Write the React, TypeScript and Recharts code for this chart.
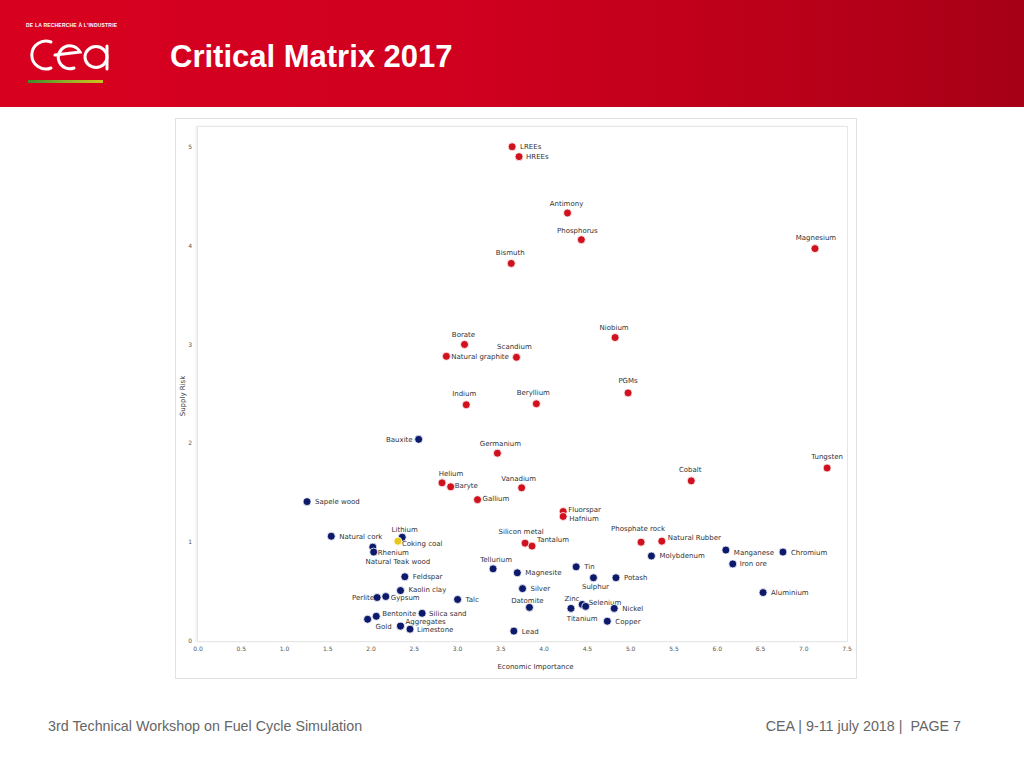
import React from 'react';
import { ScatterChart, Scatter, XAxis, YAxis } from 'recharts';

// Economic Importance (ei) / Supply Risk (sr)
const criticalMaterials = [
  { name: 'LREEs', ei: 3.63, sr: 5.0 },
  { name: 'HREEs', ei: 3.71, sr: 4.9 },
  { name: 'Antimony', ei: 4.27, sr: 4.33 },
  { name: 'Phosphorus', ei: 4.43, sr: 4.06 },
  { name: 'Bismuth', ei: 3.62, sr: 3.82 },
  { name: 'Magnesium', ei: 7.13, sr: 3.97 },
  { name: 'Niobium', ei: 4.82, sr: 3.07 },
  { name: 'Borate', ei: 3.08, sr: 3.0 },
  { name: 'Natural graphite', ei: 2.87, sr: 2.88 },
  { name: 'Scandium', ei: 3.68, sr: 2.87 },
  { name: 'PGMs', ei: 4.97, sr: 2.51 },
  { name: 'Indium', ei: 3.1, sr: 2.39 },
  { name: 'Beryllium', ei: 3.91, sr: 2.4 },
  { name: 'Germanium', ei: 3.46, sr: 1.9 },
  { name: 'Tungsten', ei: 7.27, sr: 1.75 },
  { name: 'Cobalt', ei: 5.7, sr: 1.62 },
  { name: 'Helium', ei: 2.82, sr: 1.6 },
  { name: 'Baryte', ei: 2.92, sr: 1.56 },
  { name: 'Vanadium', ei: 3.74, sr: 1.55 },
  { name: 'Gallium', ei: 3.23, sr: 1.43 },
  { name: 'Fluorspar', ei: 4.22, sr: 1.31 },
  { name: 'Hafnium', ei: 4.22, sr: 1.26 },
  { name: 'Phosphate rock', ei: 5.12, sr: 1.0 },
  { name: 'Natural Rubber', ei: 5.36, sr: 1.01 },
  { name: 'Silicon metal', ei: 3.78, sr: 0.99 },
  { name: 'Tantalum', ei: 3.86, sr: 0.96 },
];

const nonCriticalMaterials = [
  { name: 'Bauxite', ei: 2.55, sr: 2.04 },
  { name: 'Sapele wood', ei: 1.26, sr: 1.41 },
  { name: 'Natural cork', ei: 1.54, sr: 1.06 },
  { name: 'Lithium', ei: 2.36, sr: 1.05 },
  { name: 'Natural Teak wood', ei: 2.02, sr: 0.95 },
  { name: 'Rhenium', ei: 2.03, sr: 0.9 },
  { name: 'Tellurium', ei: 3.41, sr: 0.73 },
  { name: 'Magnesite', ei: 3.69, sr: 0.69 },
  { name: 'Tin', ei: 4.37, sr: 0.75 },
  { name: 'Sulphur', ei: 4.57, sr: 0.64 },
  { name: 'Potash', ei: 4.83, sr: 0.64 },
  { name: 'Molybdenum', ei: 5.24, sr: 0.86 },
  { name: 'Manganese', ei: 6.1, sr: 0.92 },
  { name: 'Chromium', ei: 6.76, sr: 0.9 },
  { name: 'Iron ore', ei: 6.18, sr: 0.78 },
  { name: 'Aluminium', ei: 6.53, sr: 0.49 },
  { name: 'Silver', ei: 3.75, sr: 0.53 },
  { name: 'Datomite', ei: 3.83, sr: 0.34 },
  { name: 'Zinc', ei: 4.31, sr: 0.33 },
  { name: 'Titanium', ei: 4.44, sr: 0.37 },
  { name: 'Selenium', ei: 4.48, sr: 0.35 },
  { name: 'Nickel', ei: 4.81, sr: 0.33 },
  { name: 'Copper', ei: 4.73, sr: 0.2 },
  { name: 'Lead', ei: 3.65, sr: 0.1 },
  { name: 'Feldspar', ei: 2.39, sr: 0.65 },
  { name: 'Kaolin clay', ei: 2.34, sr: 0.51 },
  { name: 'Perlite', ei: 2.07, sr: 0.44 },
  { name: 'Gypsum', ei: 2.17, sr: 0.45 },
  { name: 'Talc', ei: 3.0, sr: 0.42 },
  { name: 'Silica sand', ei: 2.59, sr: 0.28 },
  { name: 'Bentonite', ei: 2.06, sr: 0.25 },
  { name: 'Gold', ei: 1.96, sr: 0.22 },
  { name: 'Aggregates', ei: 2.34, sr: 0.15 },
  { name: 'Limestone', ei: 2.45, sr: 0.12 },
];

const otherMaterials = [{ name: 'Coking coal', ei: 2.31, sr: 1.01 }];

const xTicks = [0, 0.5, 1, 1.5, 2, 2.5, 3, 3.5, 4, 4.5, 5, 5.5, 6, 6.5, 7, 7.5];
const yTicks = [0, 1, 2, 3, 4, 5];

// label placement (style only): side, dx, dy
const labelPlacement: Record<string, [string, number, number]> = {
  LREEs: ['r', 1, 0], HREEs: ['r', 0, 0], Antimony: ['t', -1, 0], Phosphorus: ['t', -4, 0],
  Bismuth: ['t', -1, -1], Magnesium: ['t', 1, -2], Niobium: ['t', -1, -1], Borate: ['t', -1, 0],
  'Natural graphite': ['r', -2, 0], Scandium: ['t', -2, -1], PGMs: ['t', 0, -2.5], Indium: ['t', -2, -2],
  Beryllium: ['t', -3, -2], Germanium: ['t', 3, 0], Tungsten: ['t', 0, -2], Cobalt: ['t', -1, -2],
  Helium: ['t', 9, 0], Baryte: ['r', -3, -1], Vanadium: ['t', -3, 0], Gallium: ['r', -2, -1],
  Fluorspar: ['r', -2, -2.5], Hafnium: ['r', -1, 2], 'Phosphate rock': ['t', -3, -4.5],
  'Natural Rubber': ['r', -1, -4], 'Silicon metal': ['t', -4, -2], Tantalum: ['r', -2, -6.5],
  Bauxite: ['l', 1, 0], 'Sapele wood': ['r', 1, 0], 'Natural cork': ['r', 1, 0], Lithium: ['t', 2.5, 2],
  'Natural Teak wood': ['b', 25, 6], Rhenium: ['r', -3, 0], Tellurium: ['t', 3, 0], Magnesite: ['r', 1, 0],
  Tin: ['r', 1, 0], Sulphur: ['b', 2, 0], Potash: ['r', 1, 0], Molybdenum: ['r', 1, 0],
  Manganese: ['r', 1, 2], Chromium: ['r', 1, 0], 'Iron ore': ['r', 0, 0], Aluminium: ['r', 1, 0],
  Silver: ['r', 1, 0], Datomite: ['t', -2, 2.5], Zinc: ['t', 1, 0], Titanium: ['b', 0, 6],
  Selenium: ['r', -4, -4], Nickel: ['r', 1, 0], Copper: ['r', 1, 0], Lead: ['r', 1, 0],
  Feldspar: ['r', 1, 0], 'Kaolin clay': ['r', 1, -1.5], Perlite: ['l', 4, 0], Gypsum: ['r', -2, 1],
  Talc: ['r', 1, 0], 'Silica sand': ['r', 0, 0], Bentonite: ['r', -1, -3], Gold: ['r', 1, 7],
  Aggregates: ['r', -2, -5], Limestone: ['r', 0, 0], 'Coking coal': ['r', -3, 2],
};

const FONT = '"DejaVu Sans", Verdana, sans-serif';

const makeDot = (color: string) => (props: any) => {
  const { cx, cy, payload } = props;
  if (cx == null || cy == null) return null;
  const [side, dx, dy] = labelPlacement[payload.name] ?? ['r', 0, 0];
  let tx = cx + 7 + dx;
  let ty = cy + 2.5 + dy;
  let anchor: 'start' | 'middle' | 'end' = 'start';
  if (side === 'l') { tx = cx - 7 + dx; anchor = 'end'; }
  if (side === 't') { tx = cx + dx; ty = cy - 7 + dy; anchor = 'middle'; }
  if (side === 'b') { tx = cx + dx; ty = cy + 11 + dy; anchor = 'middle'; }
  return (
    <g>
      <circle cx={cx} cy={cy} r={4} fill={color} stroke="#ffffff" strokeWidth={0.8} />
      <text x={tx} y={ty} textAnchor={anchor} fontSize={7} fill="#333" fontFamily={FONT}>
        {payload.name}
      </text>
    </g>
  );
};

const CeaLogo = () => (
  <svg width={110} height={60} style={{ position: 'absolute', left: 10, top: 30 }}>
    <g fill="none" stroke="#ffffff" strokeWidth={3} strokeLinecap="round">
      <path d="M 41 12 A 14 14 0 1 0 41 38" />
      <path d="M 45 25 L 70 22 A 11.5 11.5 0 1 0 64 38" />
      <ellipse cx={86} cy={27} rx={11} ry={10.5} />
      <path d="M 97 16 L 97 39" />
    </g>
  </svg>
);

export default function App() {
  return (
    <div style={{ position: 'absolute', left: 0, top: 0, width: 1024, height: 768, background: '#ffffff', overflow: 'hidden', fontFamily: '"Liberation Sans", Arial, sans-serif' }}>
      {/* header band */}
      <div style={{ position: 'absolute', left: 0, top: 0, width: 1024, height: 107, background: 'linear-gradient(90deg, #d8001f 0%, #d0001f 45%, #b80019 80%, #a60016 100%)' }} />
      <div style={{ position: 'absolute', left: 26, top: 22, fontSize: 5, fontWeight: 700, color: '#fff', letterSpacing: 0.2, fontFamily: '"Liberation Sans", Arial, sans-serif' }}>
        DE LA RECHERCHE À L'INDUSTRIE
      </div>
      <CeaLogo />
      <div style={{ position: 'absolute', left: 28, top: 80, width: 75, height: 3, background: 'linear-gradient(90deg, #3d8a2c 0%, #8fae2a 50%, #cfc21c 100%)' }} />
      <div style={{ position: 'absolute', left: 170, top: 40, fontSize: 31, fontWeight: 700, color: '#ffffff', lineHeight: '34px', whiteSpace: 'nowrap' }}>
        Critical Matrix 2017
      </div>

      {/* chart frame */}
      <div style={{ position: 'absolute', left: 175, top: 118, width: 680, height: 559, border: '1px solid #e2e2e2' }} />
      <div style={{ position: 'absolute', left: 197, top: 126, width: 649, height: 514, border: '1px solid #e6e6e6', boxShadow: '-2px 0 2px rgba(0,0,0,0.05)' }} />

      <div style={{ position: 'absolute', left: 175, top: 118 }}>
        <ScatterChart width={682} height={561} margin={{ top: 9, right: 10, bottom: 8, left: 7 }}>
          <XAxis
            type="number"
            dataKey="ei"
            domain={[0, 7.5]}
            ticks={xTicks}
            tickFormatter={(v: number) => v.toFixed(1)}
            tickLine={false}
            axisLine={false}
            tickSize={4}
            tickMargin={2}
            height={30}
            interval={0}
            tick={{ fontSize: 6, fill: '#555', fontFamily: FONT }}
            label={{
              content: (p: any) => {
                const vb = p.viewBox || { x: 23, y: 523, width: 649, height: 30 };
                return (
                  <text x={vb.x + vb.width / 2 + 13} y={vb.y + 28} textAnchor="middle" fontSize={7} fill="#333" fontFamily={FONT}>
                    Economic Importance
                  </text>
                );
              },
            }}
          />
          <YAxis
            type="number"
            dataKey="sr"
            domain={[0, 5.2]}
            ticks={yTicks}
            tickLine={false}
            axisLine={false}
            tickSize={4}
            tickMargin={2}
            width={16}
            interval={0}
            tick={{ fontSize: 6, fill: '#555', fontFamily: FONT }}
            label={{
              content: (p: any) => {
                const vb = p.viewBox || { x: 7, y: 9, width: 16, height: 514 };
                const x = vb.x + 3;
                const y = vb.y + vb.height / 2 + 12;
                return (
                  <text x={x} y={y} transform={`rotate(-90, ${x}, ${y})`} textAnchor="middle" fontSize={7} fill="#333" fontFamily={FONT}>
                    Supply Risk
                  </text>
                );
              },
            }}
          />
          <Scatter name="Critical" data={criticalMaterials} shape={makeDot('#d0121f')} isAnimationActive={false} />
          <Scatter name="Non critical" data={nonCriticalMaterials} shape={makeDot('#0d1a6b')} isAnimationActive={false} />
          <Scatter name="Other" data={otherMaterials} shape={makeDot('#e8c81a')} isAnimationActive={false} />
        </ScatterChart>
      </div>

      {/* footer */}
      <div style={{ position: 'absolute', left: 48, top: 718, fontSize: 14.3, color: '#666', whiteSpace: 'nowrap' }}>
        3rd Technical Workshop on Fuel Cycle Simulation
      </div>
      <div style={{ position: 'absolute', right: 63, top: 718, fontSize: 14.3, color: '#666', whiteSpace: 'pre' }}>
        {'CEA | 9-11 july 2018 |  PAGE 7'}
      </div>
    </div>
  );
}
